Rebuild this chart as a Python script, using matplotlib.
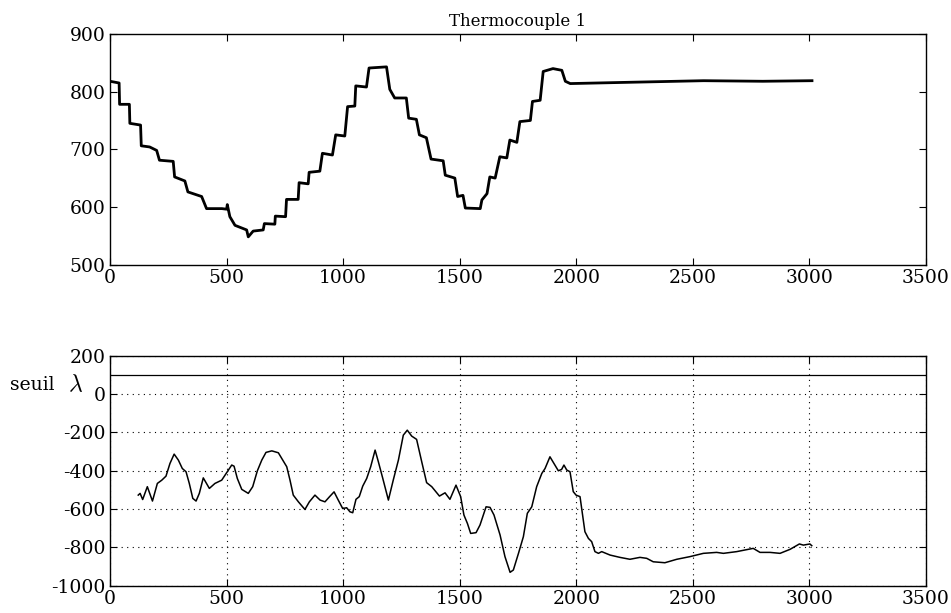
#Thermocouple 1 : signal brut + statistique de detection avec seuil

import matplotlib
matplotlib.use("Agg")
import matplotlib.pyplot as plt

plt.rcParams["font.family"] = ["DejaVu Serif"]
plt.rcParams["mathtext.fontset"] = "cm"
plt.rcParams["axes.unicode_minus"] = False

temps_signal = [0, 39, 41, 83, 85, 131, 134, 170, 200, 212, 271, 277, 321, 334, 393, 414,
                480, 500, 503, 514, 536, 586, 593, 614, 657, 662, 707, 709, 753, 757,
                807, 811, 850, 854, 900, 911, 954, 968, 1007, 1019, 1050, 1054, 1100,
                1111, 1186, 1200, 1221, 1271, 1281, 1314, 1327, 1357, 1377, 1429, 1438,
                1479, 1491, 1514, 1524, 1588, 1595, 1617, 1629, 1652, 1672, 1702, 1715,
                1745, 1758, 1803, 1812, 1845, 1858, 1900, 1938, 1953, 1974, 2200, 2546,
                2800, 3011]
temp_signal = [818, 815, 778, 778, 745, 742, 706, 704, 698, 681, 679, 652, 645, 626, 618,
               597, 597, 596, 604, 583, 568, 560, 548, 558, 560, 571, 570, 584, 583, 613,
               613, 642, 640, 660, 662, 693, 690, 725, 723, 774, 775, 810, 808, 841, 843,
               804, 789, 789, 754, 752, 725, 720, 683, 680, 655, 650, 618, 620, 598, 597,
               612, 623, 652, 650, 687, 685, 716, 712, 748, 750, 783, 785, 835, 840, 837,
               818, 814, 816, 819, 818, 819]

#statistique de test (temps, valeur)
temps_stat = [121, 129, 140, 160, 182, 203, 222, 240, 257, 275, 293, 310, 326, 340, 355,
              369, 383, 400, 426, 450, 479, 503, 522, 532, 546, 565, 593, 612, 632, 651,
              669, 694, 722, 741, 758, 772, 786, 808, 836, 855, 879, 901, 922, 941, 961,
              979, 998, 1015, 1029, 1041, 1055, 1069, 1084, 1101, 1118, 1137, 1151, 1170,
              1194, 1215, 1237, 1258, 1275, 1294, 1315, 1337, 1358, 1380, 1413, 1437,
              1458, 1484, 1504, 1518, 1533, 1547, 1570, 1587, 1613, 1630, 1647, 1673,
              1694, 1716, 1730, 1752, 1773, 1790, 1809, 1830, 1852, 1866, 1887, 1904,
              1923, 1937, 1947, 1959, 1973, 1987, 1999, 2016, 2030, 2037, 2052, 2066,
              2080, 2095, 2109, 2145, 2187, 2230, 2273, 2302, 2330, 2380, 2431, 2488,
              2545, 2602, 2631, 2688, 2759, 2788, 2831, 2874, 2917, 2957, 2974, 3002, 3010]
valeur_stat = [-527, -518, -550, -483, -558, -466, -449, -428, -362, -313, -344, -388,
               -405, -466, -544, -558, -518, -437, -492, -466, -449, -405, -370, -376,
               -440, -497, -518, -483, -400, -344, -304, -296, -306, -344, -379, -449,
               -527, -562, -602, -562, -527, -553, -562, -536, -510, -553, -597, -593,
               -614, -619, -549, -535, -480, -440, -379, -292, -353, -440, -553, -448,
               -344, -214, -188, -219, -236, -353, -462, -483, -532, -515, -549, -475,
               -535, -631, -675, -727, -723, -683, -588, -591, -631, -735, -848, -930,
               -918, -831, -744, -622, -588, -483, -414, -388, -327, -361, -400, -393,
               -370, -396, -405, -509, -527, -535, -657, -718, -753, -770, -822, -831,
               -822, -840, -852, -862, -852, -857, -875, -880, -862, -848, -831, -826,
               -831, -822, -805, -826, -826, -831, -810, -782, -788, -782, -791]

seuil = 100

fig = plt.figure(figsize=(9.51, 6.13), dpi=100)
ax1 = fig.add_axes([0.1157, 0.5685, 0.858, 0.376])
ax2 = fig.add_axes([0.1157, 0.0445, 0.858, 0.375])

#haut : signal
ax1.plot(temps_signal, temp_signal, color="black", linewidth=2.0)
ax1.set_xlim(0, 3500)
ax1.set_ylim(500, 900)
ax1.set_xticks(range(0, 3501, 500))
ax1.set_yticks(range(500, 901, 100))
ax1.set_title("Thermocouple 1", fontsize=12, pad=6)

#bas : statistique + seuil
ax2.plot(temps_stat, valeur_stat, color="black", linewidth=1.1)
ax2.axhline(seuil, color="black", linewidth=0.9)
ax2.set_xlim(0, 3500)
ax2.set_ylim(-1000, 200)
ax2.set_xticks(range(0, 3501, 500))
ax2.set_yticks(range(-1000, 201, 200))
ax2.grid(True, color="black", linestyle=(0, (1, 4)), linewidth=0.8)
ax2.text(-0.1225, 0.873, "seuil", transform=ax2.transAxes,
         fontsize=13.5, ha="left", va="center")
ax2.text(-0.0515, 0.873, r"$\lambda$", transform=ax2.transAxes,
         fontsize=17, ha="left", va="center")

for ax in (ax1, ax2):
    ax.tick_params(direction="in", top=True, right=True, length=5, width=0.8,
                   labelsize=13.5, pad=3)
    for s in ax.spines.values():
        s.set_linewidth(1.0)

fig.savefig("out.png", dpi=100)
